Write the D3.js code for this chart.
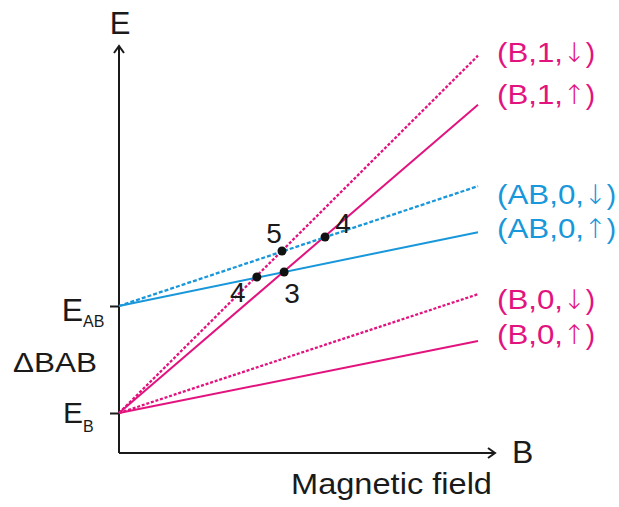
<!DOCTYPE html>
<html><head><meta charset="utf-8">
<script src="https://cdn.jsdelivr.net/npm/d3@7"></script>
<style>
html,body{margin:0;padding:0;background:#fff;}
text{font-family:"Liberation Sans",Arial,Helvetica,sans-serif;}
</style></head>
<body>
<script>
// ---- data ----
const seriesNames   = ["(B,0,↑)","(B,0,↓)","(B,1,↑)","(B,1,↓)","(AB,0,↑)","(AB,0,↓)"];
const seriesGroup   = ["B","B","B","B","AB","AB"];
const startEnergy   = [0, 0, 0, 0, 1, 1];          // at B = 0
const endEnergy     = [0.673, 1.11, 2.88, 3.34, 1.69, 2.12]; // at B = 1
const spinDown      = [false, true, false, true, false, true];
const labelEnergy   = [0.738, 1.065, 2.981, 3.374, 1.729, 2.047];
const fieldRange    = [0, 1];
const levelTicks    = [0, 1];            // E_B, E_AB
const levelMain     = ["E", "E"];
const levelSub      = ["B", "AB"];
const pointLabels   = ["4", "3", "5", "4"];
const pointField    = [0.384, 0.460, 0.454, 0.574];
const pointEnergy   = [1.271, 1.318, 1.514, 1.645];

// ---- layout ----
const W = 619, H = 507;
const colors = {B: "#e2137e", AB: "#1897da"};
const svg = d3.select("body").append("svg").attr("width", W).attr("height", H);

const x = d3.scaleLinear().domain(fieldRange).range([119, 478]);
const y = d3.scaleLinear().domain([0, 1]).range([413, 306]);
const axisY0 = 453;
const axisTop = 46, axisRight = 495;

// y axis ticks
const yAxis = d3.axisLeft(y).tickValues(levelTicks).tickSize(9).tickFormat("");
const gy = svg.append("g").attr("transform", `translate(${x(0)},0)`).call(yAxis);
gy.select(".domain").remove();
gy.selectAll(".tick line").attr("stroke", "#1a1a1a").attr("stroke-width", 2);

// axes lines with open arrow heads
const ax = svg.append("g").attr("stroke", "#1a1a1a").attr("stroke-width", 2).attr("fill", "none");
ax.append("path").attr("d", `M${x(0)},${axisY0}V${axisTop}`);
ax.append("path").attr("d", `M${x(0)},${axisY0}H${axisRight}`);
ax.append("path").attr("d", `M${x(0)-5},${axisTop+7}L${x(0)},${axisTop}L${x(0)+5},${axisTop+7}`);
ax.append("path").attr("d", `M${axisRight-7},${axisY0-5}L${axisRight},${axisY0}L${axisRight-7},${axisY0+5}`);

// lines
const lineGen = d3.line().x(d => x(d[0])).y(d => y(d[1]));
seriesNames.forEach((name, i) => {
  svg.append("path")
    .datum([[fieldRange[0], startEnergy[i]], [fieldRange[1], endEnergy[i]]])
    .attr("d", lineGen)
    .attr("fill", "none")
    .attr("stroke", colors[seriesGroup[i]])
    .attr("stroke-width", spinDown[i] ? 2.3 : 2)
    .attr("stroke-dasharray", spinDown[i] ? (seriesGroup[i] === "AB" ? "4,2" : "3,1.8") : null);
});

// series labels (arrow glyph drawn from a font with tall arrows)
seriesNames.forEach((name, i) => {
  const m = name.match(/^(.*,)(.)(\))$/);
  const t = svg.append("text")
    .attr("x", 497)
    .attr("y", y(labelEnergy[i]) + 10)
    .attr("font-size", 28)
    .attr("fill", colors[seriesGroup[i]]);
  t.append("tspan").attr("textLength", seriesGroup[i] === "AB" ? 87 : 66)
    .attr("lengthAdjust", "spacingAndGlyphs").text(m[1]);
  t.append("tspan").attr("font-family", "DejaVu Sans").attr("font-weight", 300)
    .attr("font-size", 27).text(m[2]);
  t.append("tspan").text(m[3]);
});

// intersection points
const labelOffsets = [[-19, 25], [8, 31], [-8, -8], [18, -4]];
pointLabels.forEach((lab, i) => {
  const px = x(pointField[i]), py = y(pointEnergy[i]);
  svg.append("circle").attr("cx", px).attr("cy", py).attr("r", 4.5).attr("fill", "#111");
  svg.append("text")
    .attr("x", px + labelOffsets[i][0])
    .attr("y", py + labelOffsets[i][1])
    .attr("text-anchor", "middle")
    .attr("font-size", 28)
    .attr("fill", "#1a1a1a")
    .text(lab);
});

// level labels
const levelFont = [30, 32];
const subDrop = [9, 6];
levelTicks.forEach((v, i) => {
  svg.append("text")
    .attr("x", 83).attr("y", y(v) + (i === 0 ? 10 : 15))
    .attr("text-anchor", "end")
    .attr("font-size", levelFont[i]).attr("fill", "#1a1a1a")
    .text(levelMain[i]);
  svg.append("text")
    .attr("x", 83).attr("y", y(v) + (i === 0 ? 10 : 15) + subDrop[i])
    .attr("font-size", 16).attr("fill", "#1a1a1a")
    .text(levelSub[i]);
});

svg.append("text").attr("x", 13).attr("y", 372)
  .attr("font-size", 27).attr("fill", "#1a1a1a")
  .attr("textLength", 84).attr("lengthAdjust", "spacingAndGlyphs")
  .text("ΔBAB");

// axis titles
svg.append("text").attr("x", 120).attr("y", 34).attr("text-anchor", "middle")
  .attr("font-size", 31).attr("fill", "#1a1a1a").text("E");
svg.append("text").attr("x", 512).attr("y", 463)
  .attr("font-size", 32).attr("fill", "#1a1a1a").text("B");
svg.append("text").attr("x", 291).attr("y", 494)
  .attr("font-size", 29).attr("fill", "#1a1a1a")
  .attr("textLength", 201).attr("lengthAdjust", "spacingAndGlyphs")
  .text("Magnetic field");
</script>
</body></html>
